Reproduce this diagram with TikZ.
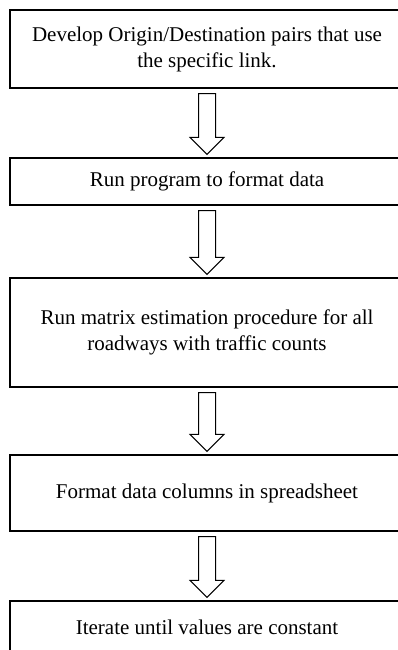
\documentclass[tikz,border=0pt]{standalone}
\usepackage{fontspec}
\setmainfont{Liberation Serif}
\usetikzlibrary{calc}
\tikzset{
  stepbox/.style={draw,line width=1.3pt,minimum width=394pt,align=center,
    inner sep=0pt,font=\fontsize{21}{26}\selectfont},
  bigarrow/.style={draw,line width=1pt,to path={
    let \p1=(\tikztostart), \p2=(\tikztotarget) in
    (\x1-8.5pt,\y1-5pt) -- (\x1-8.5pt,\y2+20pt) -- (\x1-17pt,\y2+20pt)
    -- (\x1,\y2+3pt) -- (\x1+17pt,\y2+20pt) -- (\x1+8.5pt,\y2+20pt)
    -- (\x1+8.5pt,\y1-5pt) -- cycle}}
}
\begin{document}
\begin{tikzpicture}[x=1pt,y=1pt]
\useasboundingbox (0,0) rectangle (398,-650);
\clip (0,0) rectangle (398,-650);
\fill[white] (0,0) rectangle (398,-650);
% steps
\node[stepbox,minimum height=78pt] (origin) at (207,-49) {Develop Origin/Destination pairs that use\\the specific link.};
\node[stepbox,minimum height=47pt] (program) at (207,-181.5) {Run program to format data};
\node[stepbox,minimum height=109pt] (matrix) at (207,-332.5) {Run matrix estimation procedure for all\\roadways with traffic counts};
\node[stepbox,minimum height=76pt] (columns) at (207,-493) {Format data columns in spreadsheet};
\node[stepbox,minimum height=52pt] (iterate) at (207,-627) {Iterate until values are constant};
% arrows
\draw[bigarrow] (origin.south) to (program.north);
\draw[bigarrow] (program.south) to (matrix.north);
\draw[bigarrow] (matrix.south) to (columns.north);
\draw[bigarrow] (columns.south) to (iterate.north);
\end{tikzpicture}
\end{document}
